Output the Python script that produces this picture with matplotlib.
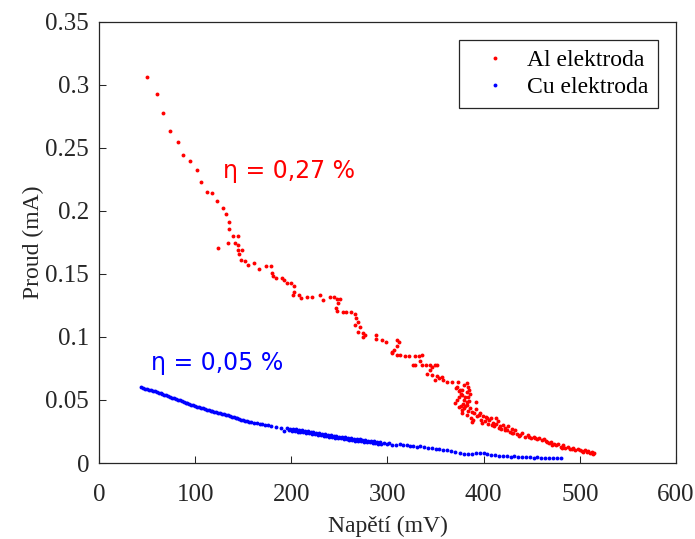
import matplotlib
matplotlib.use("Agg")
import matplotlib.pyplot as plt

# Al elektroda (red)
al_napeti = [
    50.3, 59.9, 66.2, 73.5, 82.2, 87.7, 94.9, 101.5, 106.1, 112.3, 117.8, 123.0,
    128.6, 131.6, 134.8, 134.8, 138.9, 144.5, 133.7, 123.7, 141.0, 144.5, 144.5,
    149.0, 145.6, 147.9, 152.1, 155.2, 161.5, 166.0, 173.2, 178.4, 179.5, 180.9,
    184.0, 190.2, 192.7, 195.1, 199.9, 202.3, 202.3, 201.3, 207.9, 210.0, 215.9,
    221.1, 229.7, 232.5, 240.2, 244.3, 247.8, 250.5, 248.8, 246.1, 247.8, 254.0,
    256.8, 262.0, 266.1, 266.8, 269.6, 266.1, 271.3, 269.6, 274.1, 276.5, 274.7,
    288.0, 288.6, 293.9, 298.0, 309.4, 311.8, 309.4, 307.0, 304.3, 309.4, 304.3,
    312.8, 318.1, 322.5, 328.4, 332.9, 335.4, 334.3, 328.4, 326.1, 335.4, 339.9,
    344.1, 345.8, 349.3, 351.0, 344.1, 340.6, 345.8, 351.0, 356.2, 349.3, 353.7,
    357.9, 361.4, 366.7, 373.5, 382.3, 370.8, 375.9, 377.6, 374.2, 379.4, 382.8,
    391.6, 370.0, 374.2, 379.4, 377.6, 388.1, 395.0, 402.0, 412.4, 388.1, 398.5,
    408.8, 415.9, 422.7, 429.6, 436.6, 447.0, 453.8, 464.4, 471.2, 481.6, 492.0,
    502.4, 512.8,
    372, 374, 376, 378, 380, 381, 383, 379, 376, 372, 378, 381, 384, 386, 383,
    387, 390, 392, 389, 393, 396, 397, 399, 401, 403, 405, 406, 408, 410, 411,
    413, 415, 417, 418, 420, 422, 424, 425, 427, 429, 431, 433, 435, 438, 440,
    443, 446, 449, 452, 455, 458, 461, 463, 466, 468, 470, 473, 475, 477, 480,
    483, 485, 488, 490, 493, 495, 498, 500, 503, 505, 507, 509, 511, 513, 514,
    515, 384, 385, 386, 384, 385, 383,
]
al_proud = [
    0.306, 0.293, 0.2775, 0.2637, 0.2550, 0.2444, 0.2394, 0.2325, 0.2228, 0.2151,
    0.2140, 0.2082, 0.2026, 0.1974, 0.1915, 0.1857, 0.1799, 0.1799, 0.1749, 0.1709,
    0.1749, 0.1730, 0.1690, 0.1690, 0.1659, 0.1611, 0.1601, 0.1571, 0.1585, 0.1542,
    0.1563, 0.1563, 0.1505, 0.1484, 0.1466, 0.1466, 0.1452, 0.1429, 0.1429, 0.1407,
    0.1360, 0.1331, 0.1331, 0.1312, 0.1320, 0.1320, 0.1333, 0.1294, 0.1320, 0.1320,
    0.1299, 0.1299, 0.1267, 0.1228, 0.1206, 0.1201, 0.1196, 0.1201, 0.1180, 0.1148,
    0.1122, 0.1095, 0.1082, 0.1042, 0.1029, 0.1016, 0.0998, 0.1016, 0.0982, 0.0976,
    0.0963, 0.0976, 0.0963, 0.0931, 0.0897, 0.0884, 0.0857, 0.0870, 0.0857, 0.0849,
    0.0849, 0.0849, 0.0849, 0.0857, 0.0812, 0.0778, 0.0778, 0.0778, 0.0778, 0.0778,
    0.0765, 0.0778, 0.0778, 0.0738, 0.0706, 0.0698, 0.0690, 0.0685, 0.0659, 0.0672,
    0.0659, 0.0645, 0.0645, 0.0645, 0.0632, 0.0593, 0.0579, 0.0540, 0.0526, 0.0500,
    0.0487, 0.0487, 0.0474, 0.0447, 0.0434, 0.0394, 0.0407, 0.0381, 0.0368, 0.0354,
    0.0328, 0.0315, 0.0302, 0.0275, 0.0262, 0.0235, 0.0214, 0.0204, 0.0196, 0.0177,
    0.0143, 0.0116, 0.0108, 0.0098, 0.0077,
    0.060, 0.057, 0.055, 0.058, 0.062, 0.052, 0.056, 0.047, 0.045, 0.050, 0.042,
    0.045, 0.041, 0.044, 0.038, 0.036, 0.040, 0.043, 0.034, 0.037, 0.040, 0.034,
    0.037, 0.033, 0.036, 0.031, 0.034, 0.036, 0.032, 0.029, 0.031, 0.033, 0.029,
    0.027, 0.030, 0.028, 0.026, 0.029, 0.025, 0.027, 0.024, 0.026, 0.023, 0.022,
    0.024, 0.021, 0.022, 0.020, 0.021, 0.019, 0.020, 0.018, 0.019, 0.017, 0.016,
    0.017, 0.015, 0.014, 0.015, 0.013, 0.014, 0.012, 0.013, 0.011, 0.012, 0.010,
    0.011, 0.010, 0.009, 0.0105, 0.009, 0.0095, 0.008, 0.0085, 0.0075, 0.008,
    0.060, 0.058, 0.055, 0.052, 0.049, 0.046,
]

# Cu elektroda (blue)
cu_napeti = [
    44, 46, 48, 50, 52, 54, 56, 58, 60, 62, 64, 66, 68, 70, 72, 74, 76, 78, 80,
    82, 84, 86, 88, 90, 92, 94, 96, 98, 100, 102, 104, 106, 108, 110, 112, 114,
    116, 118, 120, 122, 124, 126, 128, 130, 132, 134, 136, 138, 140, 142, 144,
    146, 148, 150, 152, 154, 156, 158, 161, 164, 167, 170, 173, 176, 179,
    184, 189, 192,
    196, 197.5, 199, 200.5, 202, 203.5, 205, 206.5, 208, 209.5, 211, 212.5,
    214, 215.5, 217, 218.5, 220, 221.5, 223, 224.5, 226, 227.5, 229, 230.5,
    232, 233.5, 235, 236.5, 238, 239.5, 241, 242.5, 244, 245.5, 247, 248.5,
    250, 251.5, 253, 254.5, 256, 257.5, 259, 260.5, 262, 263.5, 265, 266.5,
    268, 269.5, 271, 272.5, 274, 275.5, 277, 278.5, 280, 281.5, 283, 284.5,
    286, 287.5, 289, 290.5, 292, 293.5, 296, 299, 302, 305,
    309, 313, 316, 320, 323, 327, 331, 334, 338, 342, 346, 350, 354, 358, 362,
    366, 370, 375, 380, 384, 388, 392, 396, 400, 404, 408, 412, 416, 420, 424,
    428, 432, 436, 440, 444, 448, 452, 456, 460, 464, 468, 472, 476, 480,
]
cu_proud = [
    0.0601, 0.0596, 0.0590, 0.0588, 0.0582, 0.0578, 0.0571, 0.0568, 0.0562,
    0.0557, 0.0553, 0.0545, 0.0541, 0.0536, 0.0530, 0.0524, 0.0519, 0.0513,
    0.0509, 0.0502, 0.0497, 0.0490, 0.0486, 0.0478, 0.0473, 0.0466, 0.0461,
    0.0457, 0.0452, 0.0448, 0.0442, 0.0438, 0.0434, 0.0428, 0.0424, 0.0419,
    0.0414, 0.0411, 0.0406, 0.0402, 0.0398, 0.0394, 0.0389, 0.0386, 0.0381,
    0.0377, 0.0373, 0.0368, 0.0363, 0.0359, 0.0354, 0.0349, 0.0344, 0.0339,
    0.0335, 0.0331, 0.0326, 0.0322, 0.0318, 0.0314, 0.0311, 0.0306, 0.0302,
    0.0298, 0.0293,
    0.0282, 0.0276, 0.0252,
    0.0276, 0.0262, 0.0271, 0.0256, 0.0270, 0.0254, 0.0266, 0.0250, 0.0262,
    0.0247, 0.0259, 0.0243, 0.0255, 0.0239, 0.0252, 0.0236, 0.0248, 0.0232,
    0.0244, 0.0228, 0.0240, 0.0224, 0.0237, 0.0221, 0.0233, 0.0217, 0.0229,
    0.0213, 0.0225, 0.0209, 0.0222, 0.0206, 0.0218, 0.0202, 0.0214, 0.0199,
    0.0210, 0.0195, 0.0207, 0.0191, 0.0203, 0.0188, 0.0200, 0.0184, 0.0196,
    0.0181, 0.0193, 0.0178, 0.0190, 0.0175, 0.0187, 0.0172, 0.0184, 0.0169,
    0.0181, 0.0166, 0.0177, 0.0163, 0.0174, 0.0160, 0.0171, 0.0157, 0.0168,
    0.0154, 0.0165, 0.0152, 0.0160, 0.0150, 0.0155, 0.0146,
    0.0146, 0.0152, 0.0142, 0.0139, 0.0136, 0.0133, 0.0129, 0.0131, 0.0125,
    0.0122, 0.0118, 0.0115, 0.0112, 0.0107, 0.0103,
    0.0097, 0.0086, 0.0080, 0.0074, 0.0071, 0.0074, 0.0077, 0.0080, 0.0078,
    0.0070, 0.0064, 0.0060, 0.0057, 0.0058, 0.0054, 0.0051, 0.0053, 0.0049,
    0.0046, 0.0048, 0.0045, 0.0043, 0.0045, 0.0042, 0.0040, 0.0041, 0.0038,
    0.0037, 0.0036,
]

x_ticks = [0, 100, 200, 300, 400, 500, 600]
y_ticks = [0, 0.05, 0.1, 0.15, 0.2, 0.25, 0.3, 0.35]
y_labels = ["0", "0.05", "0.1", "0.15", "0.2", "0.25", "0.3", "0.35"]

axis_color = "#262626"
serif = ["Liberation Serif", "DejaVu Serif"]

fig = plt.figure(figsize=(6.95, 5.39), dpi=100)
ax = fig.add_axes([0.1424, 0.1410, 0.8302, 0.8182])

ax.plot(al_napeti, al_proud, "o", ms=2.8, mec="none", color="#ff0000",
        label="Al elektroda")
ax.plot(cu_napeti, cu_proud, "o", ms=2.8, mec="none", color="#0000ff",
        label="Cu elektroda")

ax.set_xlim(0, 600)
ax.set_ylim(0, 0.35)
ax.set_xticks(x_ticks)
ax.set_xticklabels([str(t) for t in x_ticks], family=serif, fontsize=18)
ax.set_yticks(y_ticks)
ax.set_yticklabels(y_labels, family=serif, fontsize=18)
ax.tick_params(direction="in", length=5, width=0.75, colors=axis_color,
               top=False, right=False)
ax.tick_params(axis="x", pad=15)
ax.tick_params(axis="y", pad=7)
for sp in ax.spines.values():
    sp.set_linewidth(0.9)
    sp.set_color(axis_color)

ax.set_xlabel("Napětí (mV)", family=serif, fontsize=17, color=axis_color,
              labelpad=7)
ax.set_ylabel("Proud (mA)", family=serif, fontsize=17, color=axis_color,
              labelpad=1)

ax.text(129, 0.226, "η = 0,27 %", color="#ff0000", fontsize=17,
        family="DejaVu Sans")
ax.text(54.5, 0.0738, "η = 0,05 %", color="#0000ff", fontsize=17,
        family="DejaVu Sans")

leg = ax.legend(loc="upper right", bbox_to_anchor=(0.9688, 0.959),
                borderaxespad=0, fancybox=False, framealpha=1,
                edgecolor=axis_color, prop={"family": serif, "size": 17},
                handlelength=2.3, handletextpad=0.2, labelspacing=0.25,
                borderpad=0.4, markerscale=1)
leg.get_frame().set_linewidth(0.9)

fig.savefig("out.png", dpi=100)
